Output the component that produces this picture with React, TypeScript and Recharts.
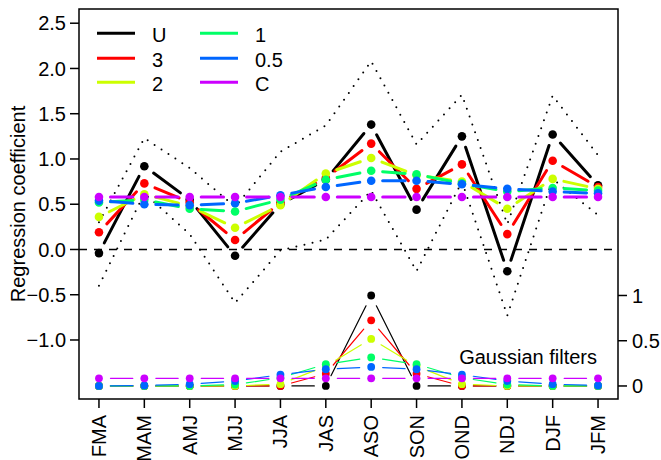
import React from 'react';
import { LineChart, Line, XAxis, YAxis, ReferenceLine, ReferenceArea, ReferenceDot } from 'recharts';

const FONT = '"Liberation Sans", Arial, Helvetica, sans-serif';

const months = ['FMA', 'MAM', 'AMJ', 'MJJ', 'JJA', 'JAS', 'ASO', 'SON', 'OND', 'NDJ', 'DJF', 'JFM'];

// Regression coefficients (upper panel)
const coefU = [-0.04, 0.92, 0.55, -0.07, 0.5, 0.77, 1.38, 0.44, 1.25, -0.24, 1.27, 0.71];
const coef3 = [0.19, 0.73, 0.52, 0.105, 0.52, 0.79, 1.17, 0.67, 0.94, 0.17, 0.98, 0.69];
const coef2 = [0.36, 0.61, 0.48, 0.24, 0.49, 0.84, 1.01, 0.82, 0.75, 0.45, 0.78, 0.67];
const coef1 = [0.52, 0.55, 0.45, 0.42, 0.55, 0.77, 0.87, 0.83, 0.73, 0.64, 0.68, 0.65];
const coef05 = [0.54, 0.5, 0.49, 0.51, 0.6, 0.69, 0.76, 0.76, 0.72, 0.67, 0.64, 0.62];
const coefC = [0.58, 0.58, 0.58, 0.58, 0.58, 0.58, 0.58, 0.58, 0.58, 0.58, 0.58, 0.58];
const upperBound = [0.3, 1.23, 0.9, 0.47, 1.08, 1.37, 2.08, 1.16, 1.71, 0.28, 1.7, 1.04];
const lowerBound = [-0.4, 0.62, 0.17, -0.59, -0.01, 0.11, 0.65, -0.24, 0.75, -0.73, 0.78, 0.38];

// Gaussian filter weights (lower panel, right axis)
const filtU = [0, 0, 0, 0, 0, 0, 1, 0, 0, 0, 0, 0];
const filt3 = [0, 0, 0, 0, 0, 0.135, 0.725, 0.135, 0, 0, 0, 0];
const filt2 = [0, 0, 0, 0, 0.02, 0.22, 0.52, 0.22, 0.02, 0, 0, 0];
const filt1 = [0, 0, 0, 0.015, 0.09, 0.24, 0.315, 0.24, 0.09, 0.015, 0, 0];
const filt05 = [0, 0.005, 0.02, 0.055, 0.125, 0.185, 0.21, 0.185, 0.125, 0.055, 0.02, 0.005];
const filtC = [0.085, 0.085, 0.085, 0.085, 0.085, 0.085, 0.085, 0.085, 0.085, 0.085, 0.085, 0.085];

const leftTicks = [-1, -0.5, 0, 0.5, 1, 1.5, 2, 2.5];
const rightTicks = [0, 0.5, 1];
const xTicks = [1, 2, 3, 4, 5, 6, 7, 8, 9, 10, 11, 12];

const seriesNames = ['U', '3', '2', '1', '0.5', 'C'];
const seriesColors = ['#000000', '#FF0000', '#CCFF00', '#00FF66', '#0066FF', '#CC00FF'];
const coefKeys = ['cU', 'c3', 'c2', 'c1', 'c05', 'cC'];
const filtKeys = ['fU', 'f3', 'f2', 'f1', 'f05', 'fC'];

const data = months.map((m, i) => ({
  i: i + 1,
  m,
  cU: coefU[i], c3: coef3[i], c2: coef2[i], c1: coef1[i], c05: coef05[i], cC: coefC[i],
  up: upperBound[i], lo: lowerBound[i],
  fU: filtU[i], f3: filt3[i], f2: filt2[i], f1: filt1[i], f05: filt05[i], fC: filtC[i],
}));

const X_DOMAIN: [number, number] = [0.56, 12.44];
const LEFT_DOMAIN: [number, number] = [-1.652, 2.657];
const RIGHT_DOMAIN: [number, number] = [-0.144, 4.166];

function gappedDot(color: string, r: number, width: number, gap: number) {
  return (props: any) => {
    const { cx, cy, index, points } = props;
    let seg: any = null;
    if (points && index < points.length - 1) {
      const nx = points[index + 1].x;
      const ny = points[index + 1].y;
      const dx = nx - cx;
      const dy = ny - cy;
      const d = Math.hypot(dx, dy);
      if (d > 2 * gap) {
        const ux = dx / d;
        const uy = dy / d;
        seg = (
          <line x1={cx + ux * gap} y1={cy + uy * gap} x2={nx - ux * gap} y2={ny - uy * gap}
            stroke={color} strokeWidth={width} strokeLinecap="round" />
        );
      }
    }
    return (
      <g key={`dot-${color}-${index}`}>
        {seg}
        <circle cx={cx} cy={cy} r={r} fill={color} stroke="none" />
      </g>
    );
  };
}

const fmtLeft = (v: number) => (v < 0 ? '\u2212' + Math.abs(v).toFixed(1) : v.toFixed(1));
const fmtRight = (v: number) => String(v);

const XTick = (props: any) => {
  const { x, y, payload } = props;
  return (
    <text x={x} y={y} transform={`rotate(-90, ${x}, ${y})`} textAnchor="end" dominantBaseline="central"
      fontSize={20} fontFamily={FONT} fill="#000">
      {months[payload.value - 1]}
    </text>
  );
};

const YLabel = (p: any) => {
  const vb = p.viewBox || { x: 0, y: 9, width: 79, height: 390 };
  const cx = vb.x + 18;
  const cy = vb.y + vb.height / 2;
  return (
    <text x={cx} y={cy} transform={`rotate(-90, ${cx}, ${cy})`} textAnchor="middle" dominantBaseline="central"
      fontSize={20} fontFamily={FONT} fill="#000">
      Regression coefficient
    </text>
  );
};

const Legend2 = () => {
  const rows = [33.3, 58.3, 82.3];
  const cols = [{ l1: 97, l2: 135, tx: 152 }, { l1: 200, l2: 238, tx: 255 }];
  return (
    <svg width={661} height={460} style={{ position: 'absolute', left: 0, top: 0, pointerEvents: 'none' }}>
      {seriesNames.map((name, k) => {
        const col = cols[Math.floor(k / 3)];
        const y = rows[k % 3];
        return (
          <g key={name}>
            <line x1={col.l1} x2={col.l2} y1={y} y2={y} stroke={seriesColors[k]} strokeWidth={3} />
            <text x={col.tx} y={y + 9} fontSize={20} fontFamily={FONT} fill="#000">{name}</text>
          </g>
        );
      })}
    </svg>
  );
};

export default function App() {
  return (
    <div style={{ position: 'absolute', left: 0, top: 0, width: 661, height: 460, background: '#fff' }}>
      <LineChart width={661} height={460} data={data} margin={{ top: 9, right: 0, left: 0, bottom: 0 }}>
        <XAxis dataKey="i" type="number" domain={X_DOMAIN} allowDataOverflow ticks={xTicks} interval={0}
          height={61} axisLine={false} tickSize={9} tickMargin={7}
          tickLine={{ stroke: '#000', strokeWidth: 1.5 }} tick={<XTick />} />
        <YAxis yAxisId="left" domain={LEFT_DOMAIN} allowDataOverflow ticks={leftTicks} interval={0} width={79}
          axisLine={false} tickSize={9} tickMargin={4} tickFormatter={fmtLeft}
          tickLine={{ stroke: '#000', strokeWidth: 1.5 }}
          tick={{ fill: '#000', fontSize: 20, fontFamily: FONT }}
          label={{ content: YLabel }} />
        <YAxis yAxisId="right" orientation="right" domain={RIGHT_DOMAIN} allowDataOverflow ticks={rightTicks}
          interval={0} width={43} axisLine={false} tickSize={9} tickMargin={5} tickFormatter={fmtRight}
          tickLine={{ stroke: '#000', strokeWidth: 1.5 }}
          tick={{ fill: '#000', fontSize: 20, fontFamily: FONT }} />

        <ReferenceLine yAxisId="left" y={0} stroke="#000" strokeWidth={1.5} strokeDasharray="8 7" ifOverflow="visible" />

        <Line yAxisId="left" dataKey="up" type="linear" stroke="#000" strokeWidth={2} strokeLinecap="round"
          strokeDasharray="0 8.3" dot={false} activeDot={false} isAnimationActive={false} />
        <Line yAxisId="left" dataKey="lo" type="linear" stroke="#000" strokeWidth={2} strokeLinecap="round"
          strokeDasharray="0 8.3" dot={false} activeDot={false} isAnimationActive={false} />

        {coefKeys.map((k, idx) => (
          <Line key={k} yAxisId="left" dataKey={k} type="linear" stroke="none"
            dot={gappedDot(seriesColors[idx], 4.3, 3, 11.5)} activeDot={false} isAnimationActive={false} />
        ))}
        {filtKeys.map((k, idx) => (
          <Line key={k} yAxisId="right" dataKey={k} type="linear" stroke="none"
            dot={gappedDot(seriesColors[idx], 3.9, 1.2, 11.5)} activeDot={false} isAnimationActive={false} />
        ))}

        <ReferenceDot yAxisId="right" x={12} y={0.32} r={0} fill="none" stroke="none" ifOverflow="visible"
          label={{ value: 'Gaussian filters', position: 'left', offset: 1, fill: '#000', fontSize: 20, fontFamily: FONT }} />

        <ReferenceArea yAxisId="left" x1={X_DOMAIN[0]} x2={X_DOMAIN[1]} y1={LEFT_DOMAIN[0]} y2={LEFT_DOMAIN[1]}
          fill="none" fillOpacity={0} stroke="#000" strokeWidth={1.5} ifOverflow="visible" />
      </LineChart>
      <Legend2 />
    </div>
  );
}
